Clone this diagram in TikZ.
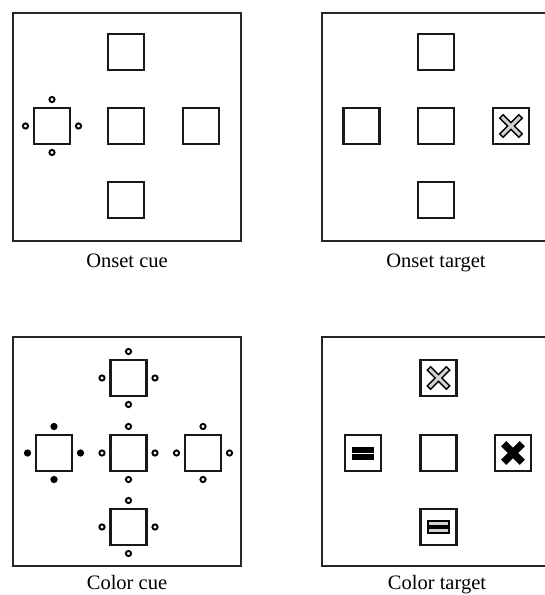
\documentclass[tikz,border=0pt]{standalone}
\usepackage{fontspec}
\setmainfont{Liberation Serif}
\begin{document}
\begin{tikzpicture}[x=1pt,y=-1pt,
  frame/.style={draw=black!85,line width=2.8pt,inner sep=0pt,outer sep=0pt},
  sq/.style={draw=black!90,line width=2.2pt,minimum size=36pt,inner sep=0pt,outer sep=0pt},
  cuedot/.style={circle,draw=black,line width=1.9pt,minimum size=5.2pt,inner sep=0pt,fill=white},
  cuefill/.style={cuedot,fill=black},
  lab/.style={font=\fontsize{20.5}{24}\selectfont,anchor=base,inner sep=0pt},
  xhollow/.style={draw=black,fill=black!18,line width=1.3pt,line join=miter},
  xsolid/.style={draw=black,fill=black,line width=0.6pt},
  barhollow/.style={draw=black,fill=black!18,line width=1.3pt},
  barsolid/.style={draw=black,fill=black,line width=0.6pt},
  xcross/.pic={\path[pic actions] (2.4,13.5) -- (2.4,2.4) -- (13.5,2.4) -- (13.5,-2.4) -- (2.4,-2.4) -- (2.4,-13.5) -- (-2.4,-13.5) -- (-2.4,-2.4) -- (-13.5,-2.4) -- (-13.5,2.4) -- (-2.4,2.4) -- (-2.4,13.5) -- cycle;},
  xbold/.pic={\path[pic actions] (3.3,12.8) -- (3.3,3.3) -- (12.8,3.3) -- (12.8,-3.3) -- (3.3,-3.3) -- (3.3,-12.8) -- (-3.3,-12.8) -- (-3.3,-3.3) -- (-12.8,-3.3) -- (-12.8,3.3) -- (-3.3,3.3) -- (-3.3,12.8) -- cycle;},
  bars/.pic={\path[pic actions] (-10.5,-6) rectangle (10.5,-0.9); \path[pic actions] (-10.5,0.9) rectangle (10.5,6);}
]
\clip (0,0) rectangle (545,595);
\fill[white] (0,0) rectangle (545,595);

% frames
\node[frame,minimum width=228pt,minimum height=228pt] (f1) at (127,127) {};
\node[frame,minimum width=229pt,minimum height=228pt] (f2) at (436.5,127) {};
\node[frame,minimum width=228pt,minimum height=229pt] (f3) at (127,451.5) {};
\node[frame,minimum width=229pt,minimum height=229pt] (f4) at (436.5,451.5) {};

% panel 1: onset cue
\node[sq] (p1n) at (126,52) {};
\node[sq] (p1w) at (52,126) {};
\node[sq] (p1c) at (126,126) {};
\node[sq] (p1e) at (201,126) {};
\node[sq] (p1s) at (126,200) {};

% panel 2: onset target
\node[sq] (p2n) at (436,52) {};
\node[sq] (p2w) at (361.5,126) {};
\node[sq] (p2c) at (436,126) {};
\node[sq] (p2e) at (511,126) {};
\node[sq] (p2s) at (436,200) {};

% panel 3: color cue
\node[sq] (p3n) at (128.5,378) {};
\node[sq] (p3w) at (54,453) {};
\node[sq] (p3c) at (128.5,453) {};
\node[sq] (p3e) at (203,453) {};
\node[sq] (p3s) at (128.5,527) {};

% panel 4: color target
\node[sq] (p4n) at (438.5,378) {};
\node[sq] (p4w) at (363,453) {};
\node[sq] (p4c) at (438.5,453) {};
\node[sq] (p4e) at (513,453) {};
\node[sq] (p4s) at (438.5,527) {};

% cue marks
\foreach \s/\st in {p1w/cuedot,p3n/cuedot,p3w/cuefill,p3c/cuedot,p3e/cuedot,p3s/cuedot}{
  \node[\st] (\s-mn) at ([yshift=8.5pt]\s.north) {};
  \node[\st] (\s-ms) at ([yshift=-8.5pt]\s.south) {};
  \node[\st] (\s-mw) at ([xshift=-8.5pt]\s.west) {};
  \node[\st] (\s-me) at ([xshift=8.5pt]\s.east) {};
}

% targets
\pic[xhollow,rotate=45] at (p2e.center) {xcross};
\pic[xhollow,rotate=45] at (p4n.center) {xcross};
\pic[xsolid,rotate=45] at (p4e.center) {xbold};
\pic[barsolid] at (p4w.center) {bars};
\pic[barhollow] at (p4s.center) {bars};

% labels
\node[lab] (l1) at (127,267) {Onset cue};
\node[lab] (l2) at (436,267) {Onset target};
\node[lab] (l3) at (127,589) {Color cue};
\node[lab] (l4) at (437,589) {Color target};
\end{tikzpicture}
\end{document}
